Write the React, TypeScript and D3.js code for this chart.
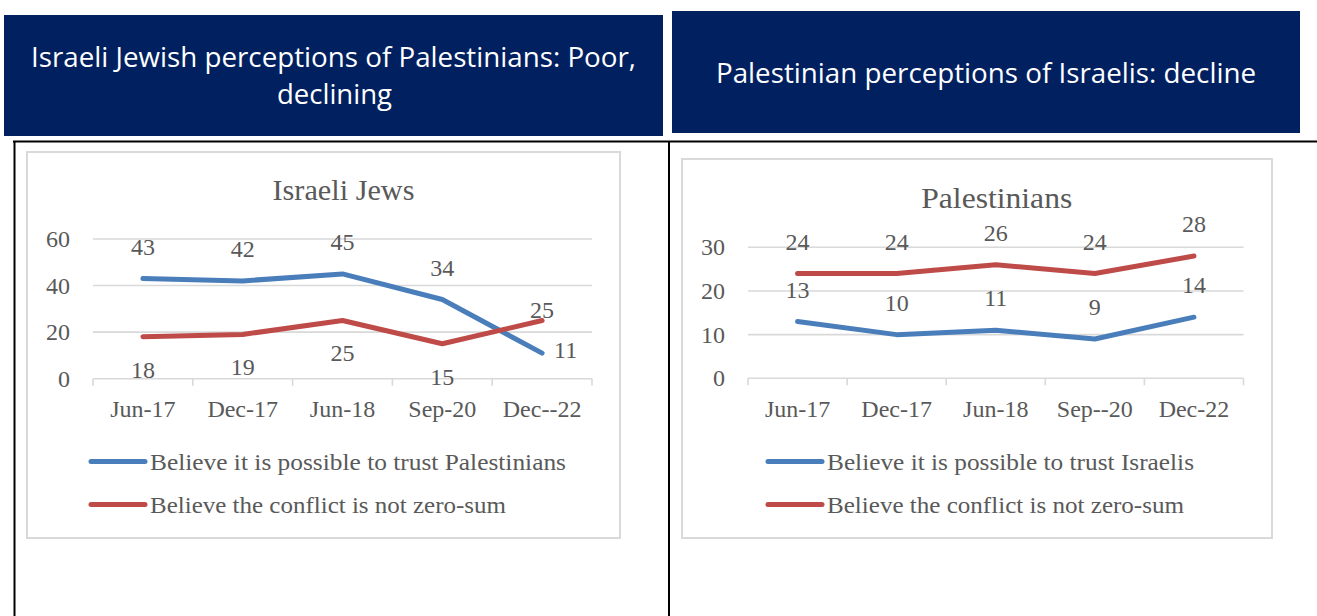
import React from "react";
import * as d3 from "d3";

// ---------- data ----------
const categoriesJews = ["Jun-17", "Dec-17", "Jun-18", "Sep-20", "Dec--22"];
const trustPalestinians = [43, 42, 45, 34, 11];
const notZeroSumJews = [18, 19, 25, 15, 25];
const ticksJews = [0, 20, 40, 60];
const labelPosTrustJews = ["above", "above", "above", "above", "right"];
const labelPosZeroJews = ["below", "below", "below", "below", "near"];

const categoriesPal = ["Jun-17", "Dec-17", "Jun-18", "Sep--20", "Dec-22"];
const trustIsraelis = [13, 10, 11, 9, 14];
const notZeroSumPal = [24, 24, 26, 24, 28];
const ticksPal = [0, 10, 20, 30];
const labelPosTrustPal = ["above", "above", "above", "above", "above"];
const labelPosZeroPal = ["above", "above", "above", "above", "above"];

const headerLeft = ["Israeli Jewish perceptions of Palestinians: Poor,", "declining"];
const headerRight = ["Palestinian perceptions of Israelis: decline"];

const BLUE = "#4A7EBB";
const RED = "#BE4B48";
const NAVY = "#002060";
const GRID = "#D9D9D9";
const TXT = "#595959";
const SERIF = "'Liberation Serif', 'Times New Roman', serif";
const SANS = "'Open Sans', 'Noto Sans', sans-serif";
const NUM = 24;

type Series = { name: string; values: number[]; color: string; pos: string[]; legendWidth: number };

type ChartProps = {
  box: [number, number, number, number];
  plotX: [number, number];
  plotY: [number, number];
  yMax: number;
  ticks: number[];
  tickRight: number;
  categories: string[];
  title: string;
  titleY: number;
  titleWidth: number;
  series: Series[];
  legendX: number;
  legendY: number[];
};

function Chart(p: ChartProps) {
  const x = d3.scaleBand<string>().domain(p.categories).range(p.plotX);
  const y = d3.scaleLinear().domain([0, p.yMax]).range(p.plotY);
  const cx = (c: string) => (x(c) ?? 0) + x.bandwidth() / 2;
  const line = d3
    .line<number>()
    .x((_, i) => cx(p.categories[i]))
    .y((v) => y(v));
  const [bx, by, bw, bh] = p.box;
  const titleCx = (p.plotX[0] + p.plotX[1]) / 2 + 1;
  const boundaries = [...p.categories.map((c) => x(c) ?? 0), p.plotX[1]];
  return (
    <g>
      <rect x={bx} y={by} width={bw} height={bh} fill="#fff" stroke={GRID} strokeWidth={2} />
      <text
        x={titleCx}
        y={p.titleY}
        textAnchor="middle"
        fontFamily={SERIF}
        fontSize={29}
        fill={TXT}
        textLength={p.titleWidth}
        lengthAdjust="spacingAndGlyphs"
      >
        {p.title}
      </text>
      {p.ticks.map((t) => (
        <g key={t}>
          <line x1={p.plotX[0]} x2={p.plotX[1]} y1={y(t)} y2={y(t)} stroke={GRID} strokeWidth={1.6} />
          <text x={p.tickRight} y={y(t) + 8} textAnchor="end" fontFamily={SERIF} fontSize={NUM} fill={TXT}>
            {t}
          </text>
        </g>
      ))}
      {boundaries.map((b, i) => (
        <line key={i} x1={b} x2={b} y1={y(0)} y2={y(0) + 7} stroke={GRID} strokeWidth={1.6} />
      ))}
      {p.categories.map((c) => (
        <text key={c} x={cx(c)} y={417} textAnchor="middle" fontFamily={SERIF} fontSize={NUM} fill={TXT}>
          {c}
        </text>
      ))}
      {p.series.map((s) => (
        <path
          key={s.name}
          d={line(s.values) ?? ""}
          fill="none"
          stroke={s.color}
          strokeWidth={5}
          strokeLinecap="round"
          strokeLinejoin="round"
        />
      ))}
      {p.series.map((s) =>
        s.values.map((v, i) => {
          const px = cx(p.categories[i]);
          const py = y(v);
          const pos = s.pos[i];
          let tx = px;
          let ty = py - 24;
          let anchor: "middle" | "start" = "middle";
          if (pos === "below") ty = py + 41;
          if (pos === "right") {
            tx = px + 12;
            ty = py + 5;
            anchor = "start";
          }
          if (pos === "near") ty = py - 2;
          return (
            <text
              key={s.name + i}
              x={tx}
              y={ty}
              textAnchor={anchor}
              fontFamily={SERIF}
              fontSize={NUM}
              fill={TXT}
            >
              {v}
            </text>
          );
        })
      )}
      {p.series.map((s, i) => (
        <g key={"lg" + s.name}>
          <line
            x1={p.legendX}
            x2={p.legendX + 54}
            y1={p.legendY[i] - 8}
            y2={p.legendY[i] - 8}
            stroke={s.color}
            strokeWidth={5}
            strokeLinecap="round"
          />
          <text
            x={p.legendX + 59}
            y={p.legendY[i]}
            fontFamily={SERIF}
            fontSize={22.5}
            fill={TXT}
            textLength={s.legendWidth}
            lengthAdjust="spacingAndGlyphs"
          >
            {s.name}
          </text>
        </g>
      ))}
    </g>
  );
}

export default function App() {
  return (
    <svg
      width={1317}
      height={616}
      style={{ position: "absolute", left: 0, top: 0, background: "#fff" }}
    >
      <rect x={0} y={0} width={1317} height={616} fill="#fff" />
      {/* headers */}
      <rect x={4} y={15} width={659} height={121} fill={NAVY} />
      <rect x={672} y={11} width={628} height={122} fill={NAVY} />
      <text x={333.5} y={67} textAnchor="middle" fontFamily={SANS} fontSize={27} fill="#fff" textLength={605} lengthAdjust="spacingAndGlyphs">
        {headerLeft[0]}
      </text>
      <text x={334.5} y={104} textAnchor="middle" fontFamily={SANS} fontSize={27} fill="#fff" textLength={115} lengthAdjust="spacingAndGlyphs">
        {headerLeft[1]}
      </text>
      <text x={986} y={83} textAnchor="middle" fontFamily={SANS} fontSize={27} fill="#fff" textLength={540} lengthAdjust="spacingAndGlyphs">
        {headerRight[0]}
      </text>
      {/* frame lines */}
      <line x1={13} x2={1317} y1={141.5} y2={141.5} stroke="#000" strokeWidth={2} />
      <line x1={14.5} x2={14.5} y1={141} y2={616} stroke="#000" strokeWidth={2} />
      <line x1={669} x2={669} y1={141} y2={616} stroke="#000" strokeWidth={2} />

      <Chart
        box={[27, 152, 593, 386]}
        plotX={[93, 592]}
        plotY={[378.7, 239]}
        yMax={60}
        ticks={ticksJews}
        tickRight={70}
        categories={categoriesJews}
        title="Israeli Jews"
        titleY={200}
        titleWidth={142}
        legendX={91}
        legendY={[469.5, 512.5]}
        series={[
          { name: "Believe it is possible to trust Palestinians", values: trustPalestinians, color: BLUE, pos: labelPosTrustJews, legendWidth: 416 },
          { name: "Believe the conflict is not zero-sum", values: notZeroSumJews, color: RED, pos: labelPosZeroJews, legendWidth: 356 },
        ]}
      />
      <Chart
        box={[682, 159, 590, 379]}
        plotX={[748, 1243.5]}
        plotY={[378.3, 247.3]}
        yMax={30}
        ticks={ticksPal}
        tickRight={725}
        categories={categoriesPal}
        title="Palestinians"
        titleY={208}
        titleWidth={151}
        legendX={768}
        legendY={[469.5, 512.5]}
        series={[
          { name: "Believe it is possible to trust Israelis", values: trustIsraelis, color: BLUE, pos: labelPosTrustPal, legendWidth: 367 },
          { name: "Believe the conflict is not zero-sum", values: notZeroSumPal, color: RED, pos: labelPosZeroPal, legendWidth: 357 },
        ]}
      />
    </svg>
  );
}
